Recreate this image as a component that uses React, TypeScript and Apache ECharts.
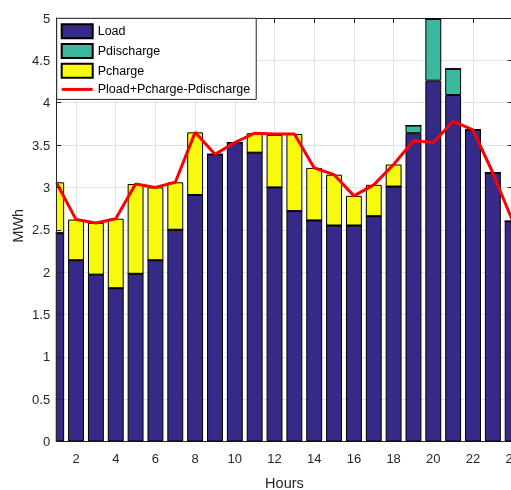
import React, { useEffect, useRef } from "react";
import * as echarts from "echarts";

const hours = [1, 2, 3, 4, 5, 6, 7, 8, 9, 10, 11, 12, 13, 14, 15, 16, 17, 18, 19, 20, 21, 22, 23, 24];
const load = [2.46, 2.14, 1.97, 1.81, 1.98, 2.14, 2.5, 2.91, 3.39, 3.53, 3.41, 3.0, 2.72, 2.61, 2.55, 2.55, 2.66, 3.01, 3.64, 4.26, 4.09, 3.68, 3.17, 2.6];
const pdischarge = [0, 0, 0, 0, 0, 0, 0, 0, 0, 0, 0, 0, 0, 0, 0, 0, 0, 0, 0.09, 0.73, 0.31, 0, 0, 0];
const pcharge = [0.6, 0.48, 0.61, 0.82, 1.06, 0.86, 0.56, 0.74, 0, 0, 0.23, 0.62, 0.91, 0.62, 0.6, 0.35, 0.37, 0.26, 0, 0, 0, 0, 0, 0];
const netLine = [3.06, 2.62, 2.58, 2.63, 3.04, 3.0, 3.06, 3.65, 3.39, 3.53, 3.64, 3.63, 3.63, 3.23, 3.15, 2.9, 3.03, 3.27, 3.55, 3.53, 3.78, 3.68, 3.17, 2.6];
const xTicks = [2, 4, 6, 8, 10, 12, 14, 16, 18, 20, 22, 24];

const FONT = "'Liberation Sans', Arial, sans-serif";
const AX = "#262626";
const GRID = "#e3e3e3";

export default function App() {
  const ref = useRef<HTMLDivElement>(null);
  useEffect(() => {
    if (!ref.current) return;
    const chart = echarts.init(ref.current, null, { renderer: "svg" });
    // value first, hour second so that stacking happens on the value dimension
    const pairVY = (arr: number[]) => hours.map((h, i) => [arr[i], h]);
    const pair = (arr: number[]) => hours.map((h, i) => [h, arr[i]]);
    const barCommon = {
      type: "bar",
      stack: "total",
      barWidth: 15.9,
      xAxisIndex: 0,
      yAxisIndex: 0,
      clip: true,
      dimensions: ["val", "hour"],
      encode: { x: 1, y: 0 },
    };
    chart.setOption({
      animation: false,
      textStyle: { fontFamily: FONT },
      grid: { left: 56.2, top: 18, width: 456.5, height: 423.5, containLabel: false, outerBoundsMode: "none" },
      graphic: [
        {
          type: "rect",
          z: 5,
          shape: { x: 0, y: 0, width: 55.7, height: 490 },
          style: { fill: "#fff" },
          silent: true,
        },
      ],
      legend: {
        orient: "vertical",
        left: 56.7,
        top: 18.3,
        z: 12,
        itemWidth: 31,
        itemHeight: 14,
        itemGap: 3.7,
        padding: [5, 6, 3, 4],
        backgroundColor: "#fff",
        borderColor: AX,
        borderWidth: 1,
        borderRadius: 0,
        textStyle: { fontSize: 12.5, color: "#000", fontFamily: FONT, lineHeight: 14 },
        data: [
          { name: "Load", icon: "rect" },
          { name: "Pdischarge", icon: "rect" },
          { name: "Pcharge", icon: "rect" },
          { name: "Pload+Pcharge-Pdischarge", icon: "path://M0,0 L31,0 L31,3 L0,3 Z", itemStyle: { color: "#FF0000", borderWidth: 0 } },
        ],
      },
      xAxis: [
        {
          type: "value",
          min: 1,
          max: 24,
          position: "bottom",
          name: "Hours",
          nameLocation: "middle",
          nameGap: 34,
          nameMoveOverlap: false,
          nameTextStyle: { fontSize: 14.5, color: AX, fontFamily: FONT },
          axisLine: { show: true, onZero: false, lineStyle: { color: AX, width: 1 } },
          axisTick: { show: true, inside: true, length: 5, customValues: xTicks, lineStyle: { color: AX } },
          axisLabel: { customValues: xTicks, fontSize: 13, color: AX, margin: 10, fontFamily: FONT },
          splitLine: { show: true, lineStyle: { color: GRID, width: 1 } },
        },
        {
          type: "value",
          min: 1,
          max: 24,
          position: "top",
          axisLine: { show: true, onZero: false, lineStyle: { color: AX, width: 1 } },
          axisTick: { show: true, inside: true, length: 5, customValues: xTicks, lineStyle: { color: AX } },
          axisLabel: { show: false },
          splitLine: { show: false },
        },
      ],
      yAxis: [
        {
          type: "value",
          min: 0,
          max: 5,
          interval: 0.5,
          z: 10,
          name: "MWh",
          nameLocation: "middle",
          nameGap: 31,
          nameMoveOverlap: false,
          nameTextStyle: { fontSize: 14.5, color: AX, fontFamily: FONT, padding: [0, 0, 0, 8] },
          axisLine: { show: true, onZero: false, lineStyle: { color: AX, width: 1 } },
          axisTick: { show: true, inside: true, length: 5, lineStyle: { color: AX } },
          axisLabel: { fontSize: 13, color: AX, margin: 6, fontFamily: FONT },
          splitLine: { show: false },
        },
        {
          type: "value",
          min: 0,
          max: 5,
          interval: 0.5,
          position: "right",
          axisLine: { show: true, onZero: false, lineStyle: { color: AX, width: 1 } },
          axisTick: { show: true, inside: true, length: 5, lineStyle: { color: AX } },
          axisLabel: { show: false },
          splitLine: { show: true, lineStyle: { color: GRID, width: 1 } },
        },
      ],
      series: [
        { ...barCommon, name: "Load", data: pairVY(load), itemStyle: { color: "#352A87", borderColor: "#000", borderWidth: 1 } },
        { ...barCommon, name: "Pdischarge", data: pairVY(pdischarge), itemStyle: { color: "#3AB99E", borderColor: "#000", borderWidth: 1 } },
        { ...barCommon, name: "Pcharge", data: pairVY(pcharge), itemStyle: { color: "#F8FA0E", borderColor: "#000", borderWidth: 1 } },
        {
          type: "line",
          name: "Pload+Pcharge-Pdischarge",
          xAxisIndex: 0,
          yAxisIndex: 0,
          data: pair(netLine),
          symbol: "none",
          z: 4,
          lineStyle: { color: "#FF0000", width: 3 },
          itemStyle: { color: "#FF0000" },
        },
      ],
    });
    return () => chart.dispose();
  }, []);
  return <div ref={ref} style={{ position: "fixed", left: 0, top: 0, width: 511, height: 490 }} />;
}
